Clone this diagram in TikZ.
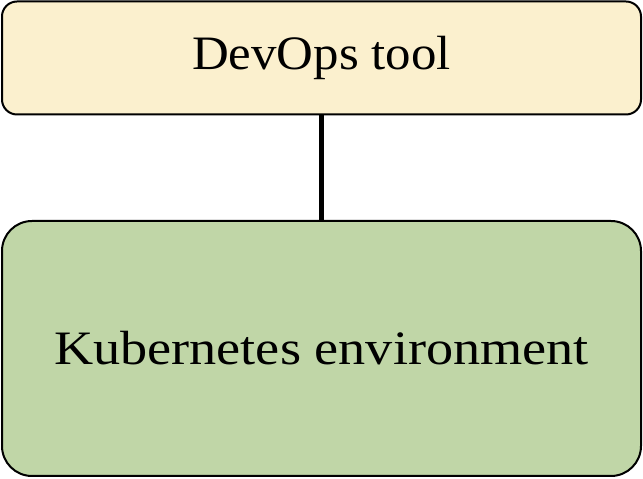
\documentclass[tikz,border=0pt]{standalone}
\usepackage{fontspec}
\setmainfont{Liberation Serif}
\definecolor{boxyellow}{HTML}{FBF0CE}
\definecolor{boxgreen}{HTML}{C0D6A7}
\begin{document}
\begin{tikzpicture}[x=1pt,y=1pt,
  box/.style={draw=black,line width=2pt,minimum width=639pt,inner sep=0pt},
  lbl/.style={font=\fontsize{48}{56}\selectfont}]
\useasboundingbox (0,0) rectangle (643,479);
\node[box,fill=boxyellow,rounded corners=15pt,minimum height=113pt,lbl] (devops) at (321.5,421) {\scalebox{1.06}[1]{DevOps tool}};
\node[box,fill=boxgreen,rounded corners=30pt,minimum height=255pt,lbl] (k8s) at (321.5,130.5) {\scalebox{1.13}[1]{Kubernetes environment}};
\draw[line width=5pt] (devops.south) -- (k8s.north);
\end{tikzpicture}
\end{document}
